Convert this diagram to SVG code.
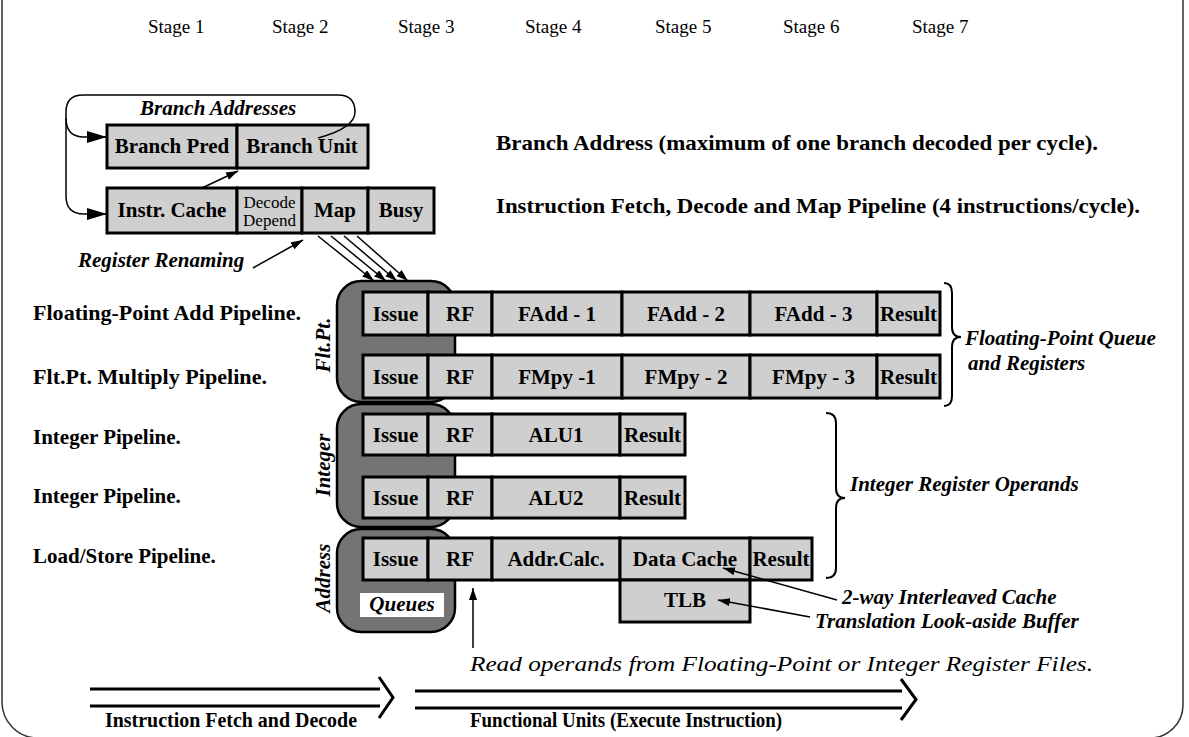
<svg xmlns="http://www.w3.org/2000/svg" width="1189" height="737" viewBox="0 0 1189 737">
  <defs>
    <style>
      .cell { fill: #cfcfcf; stroke: #000; stroke-width: 3; }
      .queue { fill: #747474; stroke: #000; stroke-width: 2.5; }
      .bt { font-family: "Liberation Serif", "Times New Roman", serif; font-weight: bold; font-size: 21px; fill: #000; text-anchor: middle; }
      .lbl { font-family: "Liberation Serif", "Times New Roman", serif; font-weight: bold; font-size: 21px; fill: #000; }
      .it { font-family: "Liberation Serif", "Times New Roman", serif; font-weight: bold; font-style: italic; font-size: 21px; fill: #000; }
      .iti { font-family: "Liberation Serif", "Times New Roman", serif; font-style: italic; font-size: 21px; fill: #000; }
      .stage { font-family: "Liberation Serif", "Times New Roman", serif; font-size: 19px; fill: #000; }
      .ln { fill: none; stroke: #000; stroke-width: 1.5; }
      .thick { fill: none; stroke: #000; stroke-width: 3; }
      .brace { fill: none; stroke: #000; stroke-width: 2; }
    </style>
    <marker id="bigHead" markerUnits="userSpaceOnUse" markerWidth="22" markerHeight="14" refX="20" refY="6" orient="auto">
      <path d="M0,0 L20,6 L0,12 z" fill="#000"/>
    </marker>
    <marker id="smallHead" markerUnits="userSpaceOnUse" markerWidth="14" markerHeight="10" refX="12" refY="4" orient="auto">
      <path d="M0,0 L12,4 L0,8 z" fill="#000"/>
    </marker>
  </defs>

  <rect width="1189" height="737" fill="#fff"/>

  <!-- page frame -->
  <path d="M2,-2 L2,702 A36,36 0 0 0 38,738 L1150,738 A33,33 0 0 0 1183,705 L1183,-2" fill="none" stroke="#333" stroke-width="1.5"/>

  <!-- stage headings -->
  <g id="stages">
    <text class="stage" x="148" y="33">Stage 1</text>
    <text class="stage" x="272" y="33">Stage 2</text>
    <text class="stage" x="398" y="33">Stage 3</text>
    <text class="stage" x="525" y="33">Stage 4</text>
    <text class="stage" x="655" y="33">Stage 5</text>
    <text class="stage" x="783" y="33">Stage 6</text>
    <text class="stage" x="912" y="33">Stage 7</text>
  </g>

  <!-- front end -->
  <g id="branch-row">
    <rect class="cell" x="107" y="125" width="130" height="43"/>
    <rect class="cell" x="237" y="125" width="131" height="43"/>
    <text class="bt" x="172" y="153">Branch Pred</text>
    <text class="bt" x="302" y="153">Branch Unit</text>
  </g>
  <g id="fetch-row">
    <rect class="cell" x="107" y="188" width="130" height="45"/>
    <rect class="cell" x="237" y="188" width="65" height="45"/>
    <rect class="cell" x="302" y="188" width="66" height="45"/>
    <rect class="cell" x="368" y="188" width="66" height="45"/>
    <text class="bt" x="172" y="217">Instr. Cache</text>
    <text x="269.5" y="208" text-anchor="middle" font-family="Liberation Serif, serif" font-size="17">Decode</text>
    <text x="269.5" y="226" text-anchor="middle" font-family="Liberation Serif, serif" font-size="17">Depend</text>
    <text class="bt" x="335" y="217">Map</text>
    <text class="bt" x="401" y="217">Busy</text>
  </g>
  <text class="it" x="140" y="115">Branch Addresses</text>
  <text class="it" x="78" y="267">Register Renaming</text>

  <text class="lbl" x="496" y="150" textLength="602" lengthAdjust="spacingAndGlyphs">Branch Address (maximum of one branch decoded per cycle).</text>
  <text class="lbl" x="496" y="213" textLength="644" lengthAdjust="spacingAndGlyphs">Instruction Fetch, Decode and Map Pipeline (4 instructions/cycle).</text>

  <!-- pipeline descriptions -->
  <g id="pipe-labels">
    <text class="lbl" x="33" y="320" textLength="268" lengthAdjust="spacingAndGlyphs">Floating-Point Add Pipeline.</text>
    <text class="lbl" x="33" y="384" textLength="234" lengthAdjust="spacingAndGlyphs">Flt.Pt. Multiply Pipeline.</text>
    <text class="lbl" x="33" y="444">Integer Pipeline.</text>
    <text class="lbl" x="33" y="503">Integer Pipeline.</text>
    <text class="lbl" x="33" y="563">Load/Store Pipeline.</text>
  </g>

  <!-- issue queues -->
  <g id="fp-queue">
    <rect class="queue" x="337" y="281" width="118" height="121" rx="24"/>
    <text class="it" transform="translate(330,345) rotate(-90)" text-anchor="middle">Flt.Pt.</text>
  </g>
  <g id="int-queue">
    <rect class="queue" x="337" y="404" width="118" height="123" rx="24"/>
    <text class="it" transform="translate(330,465) rotate(-90)" text-anchor="middle">Integer</text>
  </g>
  <g id="addr-queue">
    <rect class="queue" x="337" y="529" width="118" height="103" rx="24"/>
    <text class="it" transform="translate(330,578) rotate(-90)" text-anchor="middle">Address</text>
    <rect x="360" y="593" width="84" height="24" fill="#fff"/>
    <text class="it" x="402" y="611" text-anchor="middle">Queues</text>
  </g>

  <!-- floating-point pipelines -->
  <g id="fp-add">
    <rect class="cell" x="363" y="292" width="65" height="43"/>
    <rect class="cell" x="428" y="292" width="64" height="43"/>
    <rect class="cell" x="492" y="292" width="130" height="43"/>
    <rect class="cell" x="622" y="292" width="128" height="43"/>
    <rect class="cell" x="750" y="292" width="127" height="43"/>
    <rect class="cell" x="877" y="292" width="63" height="43"/>
    <text class="bt" x="395.5" y="321">Issue</text>
    <text class="bt" x="460" y="321">RF</text>
    <text class="bt" x="557" y="321">FAdd - 1</text>
    <text class="bt" x="686" y="321">FAdd - 2</text>
    <text class="bt" x="813.5" y="321">FAdd - 3</text>
    <text class="bt" x="908.5" y="321">Result</text>
  </g>
  <g id="fp-mpy">
    <rect class="cell" x="363" y="355" width="65" height="43"/>
    <rect class="cell" x="428" y="355" width="64" height="43"/>
    <rect class="cell" x="492" y="355" width="130" height="43"/>
    <rect class="cell" x="622" y="355" width="128" height="43"/>
    <rect class="cell" x="750" y="355" width="127" height="43"/>
    <rect class="cell" x="877" y="355" width="63" height="43"/>
    <text class="bt" x="395.5" y="384">Issue</text>
    <text class="bt" x="460" y="384">RF</text>
    <text class="bt" x="557" y="384">FMpy -1</text>
    <text class="bt" x="686" y="384">FMpy - 2</text>
    <text class="bt" x="813.5" y="384">FMpy - 3</text>
    <text class="bt" x="908.5" y="384">Result</text>
  </g>

  <!-- integer pipelines -->
  <g id="int-1">
    <rect class="cell" x="363" y="414" width="65" height="41"/>
    <rect class="cell" x="428" y="414" width="64" height="41"/>
    <rect class="cell" x="492" y="414" width="128" height="41"/>
    <rect class="cell" x="620" y="414" width="65" height="41"/>
    <text class="bt" x="395.5" y="442">Issue</text>
    <text class="bt" x="460" y="442">RF</text>
    <text class="bt" x="556" y="442">ALU1</text>
    <text class="bt" x="652.5" y="442">Result</text>
  </g>
  <g id="int-2">
    <rect class="cell" x="363" y="477" width="65" height="41"/>
    <rect class="cell" x="428" y="477" width="64" height="41"/>
    <rect class="cell" x="492" y="477" width="128" height="41"/>
    <rect class="cell" x="620" y="477" width="65" height="41"/>
    <text class="bt" x="395.5" y="505">Issue</text>
    <text class="bt" x="460" y="505">RF</text>
    <text class="bt" x="556" y="505">ALU2</text>
    <text class="bt" x="652.5" y="505">Result</text>
  </g>

  <!-- load/store pipeline -->
  <g id="ldst">
    <rect class="cell" x="363" y="538" width="65" height="42"/>
    <rect class="cell" x="428" y="538" width="64" height="42"/>
    <rect class="cell" x="492" y="538" width="128" height="42"/>
    <rect class="cell" x="620" y="538" width="130" height="42"/>
    <rect class="cell" x="750" y="538" width="62" height="42"/>
    <text class="bt" x="395.5" y="566">Issue</text>
    <text class="bt" x="460" y="566">RF</text>
    <text class="bt" x="556" y="566">Addr.Calc.</text>
    <text class="bt" x="685" y="566">Data Cache</text>
    <text class="bt" x="781" y="566">Result</text>
  </g>
  <g id="tlb">
    <rect class="cell" x="620" y="580" width="130" height="42"/>
    <text class="bt" x="685" y="607">TLB</text>
  </g>

  <!-- register-file groupings -->
  <g id="fp-regs">
    <path class="brace" d="M944,283 Q952,283 952,293 L952,327 Q952,337 961,337 Q952,337 952,347 L952,396 Q952,406 944,406"/>
    <text class="it" x="965" y="345">Floating-Point Queue</text>
    <text class="it" x="968" y="370">and Registers</text>
  </g>
  <g id="int-regs">
    <path class="brace" d="M826,413 Q836,413 836,423 L836,488 Q836,498 845,498 Q836,498 836,508 L836,568 Q836,578 826,578"/>
    <text class="it" x="850" y="491">Integer Register Operands</text>
  </g>

  <text class="it" x="842" y="604">2-way Interleaved Cache</text>
  <text class="it" x="815" y="628">Translation Look-aside Buffer</text>
  <text class="iti" x="470" y="671" textLength="623" lengthAdjust="spacingAndGlyphs">Read operands from Floating-Point or Integer Register Files.</text>

  <text class="lbl" x="105" y="727" textLength="252" lengthAdjust="spacingAndGlyphs">Instruction Fetch and Decode</text>
  <text class="lbl" x="470" y="727" textLength="312" lengthAdjust="spacingAndGlyphs">Functional Units (Execute Instruction)</text>

  <!-- connectors -->
  <g id="connectors">
    <path class="ln" d="M318,138 Q355,128 355,112 Q355,95 338,95 L83,95 Q66,95 66,112 L66,196 Q66,214 84,214 L107,214" marker-end="url(#bigHead)"/>
    <path class="ln" d="M66,118 Q66,137 84,137 L107,137" marker-end="url(#bigHead)"/>
    <line class="ln" x1="202" y1="188" x2="238" y2="171" marker-end="url(#smallHead)"/>
    <line class="ln" x1="253" y1="268" x2="303" y2="240" marker-end="url(#smallHead)"/>
    <line class="ln" x1="318" y1="236" x2="374" y2="281" marker-end="url(#smallHead)"/>
    <line class="ln" x1="331" y1="236" x2="386" y2="281" marker-end="url(#smallHead)"/>
    <line class="ln" x1="344" y1="236" x2="397" y2="281" marker-end="url(#smallHead)"/>
    <line class="ln" x1="357" y1="236" x2="408" y2="281" marker-end="url(#smallHead)"/>
    <line class="ln" x1="837" y1="600" x2="723" y2="568" marker-end="url(#smallHead)"/>
    <line class="ln" x1="810" y1="617" x2="718" y2="600" marker-end="url(#smallHead)"/>
    <line class="ln" x1="473" y1="648" x2="473" y2="588" marker-end="url(#smallHead)"/>
    <!-- hollow phase arrows -->
    <path class="thick" d="M90,689 L380,689 M90,706 L380,706 M379,677 L393,697.5 L379,718"/>
    <path class="thick" d="M415,691 L902,691 M415,708 L902,708 M901,679 L916,699.5 L901,720"/>
  </g>
</svg>
